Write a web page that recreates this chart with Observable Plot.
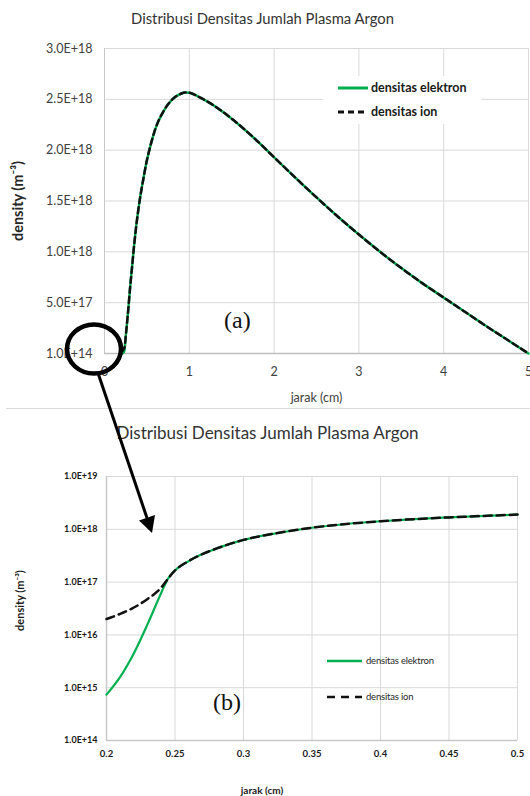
<!DOCTYPE html>
<html><head><meta charset="utf-8">
<script src="https://cdn.jsdelivr.net/npm/d3@7"></script>
<script src="https://cdn.jsdelivr.net/npm/@observablehq/plot@0.6"></script>
<style>
body{margin:0;background:#fff;}
#fig{position:relative;width:530px;height:796px;overflow:hidden;font-family:Lato,"Open Sans",sans-serif;background:#fff;}
.abs{position:absolute;}
.title{color:#333;white-space:nowrap;text-align:center;}
</style></head><body>
<div id="fig">
  <div class="abs title" style="left:0;width:525px;top:9px;font-size:14.8px;">Distribusi Densitas Jumlah Plasma Argon</div>
  <div class="abs" id="top" style="left:0;top:30px;"></div>
  <div class="abs title" style="left:0;width:535px;top:422px;font-size:17px;">Distribusi Densitas Jumlah Plasma Argon</div>
  <div class="abs" id="bottom" style="left:0;top:450px;"></div>
  <svg class="abs" id="overlay" style="left:0;top:0;" width="530" height="796"></svg>
</div>
<script>
// ---- data ----
const jarak = [0.2,0.21,0.22,0.23,0.24,0.245,0.25,0.26,0.27,0.28,0.3,0.325,0.35,0.375,0.4,0.425,0.45,0.5,0.55,0.6,0.7,0.8,0.9,0.95,1.0,1.1,1.25,1.5,1.75,2.0,2.25,2.5,2.75,3.0,3.25,3.5,3.75,4.0,4.25,4.5,4.75,5.0];
const densitasElektron = [7.4e14,1.6e15,4.5e15,1.6e16,6.3e16,1.17e17,1.66e17,2.5e17,3.4e17,4.3e17,6.3e17,8.5e17,1.07e18,1.26e18,1.42e18,1.56e18,1.68e18,1.9e18,2.07e18,2.21e18,2.39e18,2.5e18,2.555e18,2.568e18,2.565e18,2.53e18,2.46e18,2.31e18,2.13e18,1.93e18,1.73e18,1.535e18,1.348e18,1.17e18,1.0e18,0.84e18,0.69e18,0.55e18,0.41e18,0.27e18,0.135e18,1e14];
const densitasIon = [2.0e16,2.5e16,3.3e16,4.8e16,7.9e16,1.17e17,1.66e17,2.5e17,3.4e17,4.3e17,6.3e17,8.5e17,1.07e18,1.26e18,1.42e18,1.56e18,1.68e18,1.9e18,2.07e18,2.21e18,2.39e18,2.5e18,2.555e18,2.568e18,2.565e18,2.53e18,2.46e18,2.31e18,2.13e18,1.93e18,1.73e18,1.535e18,1.348e18,1.17e18,1.0e18,0.84e18,0.69e18,0.55e18,0.41e18,0.27e18,0.135e18,1e14];

const topXTicks = [0,1,2,3,4,5];
const topYTicks = [1e14,5e17,1e18,1.5e18,2e18,2.5e18,3e18];
const botXTicks = [0.2,0.25,0.3,0.35,0.4,0.45,0.5];
const botYTicks = [1e14,1e15,1e16,1e17,1e18,1e19];

const seriesNames = ["densitas elektron","densitas ion"];
const yLabel = "density (m\u207B\u00B3)";
const xLabel = "jarak (cm)";

const rows = jarak.map((x,i)=>({x, e: densitasElektron[i], ion: densitasIon[i]}));
const rowsZoom = rows.filter(d=>d.x<=0.5);

function excelExp(v){
  const e = Math.floor(Math.log10(v)+1e-9);
  const m = v/Math.pow(10,e);
  return m.toFixed(1)+"E+"+e;
}

const green = "#00b050", dark = "#111";
const font = "Lato, 'Open Sans', sans-serif";

const topPlot = Plot.plot({
  width:530, height:378, marginTop:18, marginBottom:55, marginLeft:104, marginRight:2,
  style:{fontFamily:font, fontSize:"12.5px", color:"#404040", background:"transparent"},
  x:{domain:[0,5]},
  y:{domain:[1e14,3e18]},
  marks:[
    Plot.gridX(topXTicks,{stroke:"#d9d9d9", strokeOpacity:1}),
    Plot.gridY(topYTicks,{stroke:"#d9d9d9", strokeOpacity:1}),
    Plot.ruleX([0],{stroke:"#c8c8c8"}),
    Plot.ruleY([1e14],{stroke:"#bfbfbf", strokeWidth:1.5}),
    Plot.axisX(topXTicks,{tickSize:0, tickPadding:14, label:null, tickFormat:d=>String(d), fontSize:12.5}),
    Plot.axisY(topYTicks,{tickSize:0, tickPadding:12, label:null, tickFormat:excelExp, fontSize:12.5}),
    Plot.line(rows,{x:"x", y:"e", stroke:green, strokeWidth:2.5, curve:"monotone-x"}),
    Plot.line(rows,{x:"x", y:"ion", stroke:dark, strokeWidth:2.5, strokeDasharray:"6,4", curve:"monotone-x"}),
    Plot.text([yLabel],{text:d=>d, frameAnchor:"left", textAnchor:"middle", lineAnchor:"middle", dx:-86, rotate:-90, fontSize:14.5, fontWeight:"bold", fill:"#262626"}),
    Plot.text([xLabel],{text:d=>d, frameAnchor:"bottom", textAnchor:"middle", lineAnchor:"middle", dy:44, fontSize:12.5, fill:"#404040"})
  ]
});
document.getElementById("top").appendChild(topPlot);

const botPlot = Plot.plot({
  width:530, height:346, marginTop:26, marginBottom:56, marginLeft:106, marginRight:13,
  style:{fontFamily:font, fontSize:"9.5px", color:"#1a1a1a", background:"transparent"},
  x:{domain:[0.2,0.5]},
  y:{type:"log", domain:[1e14,1e19]},
  marks:[
    Plot.gridX(botXTicks,{stroke:"#d9d9d9", strokeOpacity:1}),
    Plot.gridY(botYTicks,{stroke:"#d9d9d9", strokeOpacity:1}),
    Plot.ruleX([0.2],{stroke:"#c8c8c8", strokeWidth:1.5}),
    Plot.ruleY([1e14],{stroke:"#c8c8c8", strokeWidth:1.5}),
    Plot.axisX(botXTicks,{tickSize:0, tickPadding:10, label:null, tickFormat:d=>String(d), fontWeight:"bold", fontSize:9.5}),
    Plot.axisY(botYTicks,{tickSize:0, tickPadding:9, label:null, tickFormat:excelExp, fontWeight:"bold", fontSize:9}),
    Plot.line(rowsZoom,{x:"x", y:"e", stroke:green, strokeWidth:2.2, curve:"monotone-x"}),
    Plot.line(rowsZoom,{x:"x", y:"ion", stroke:dark, strokeWidth:2.5, strokeDasharray:"8,5", curve:"monotone-x"}),
    Plot.text([yLabel],{text:d=>d, frameAnchor:"left", textAnchor:"middle", lineAnchor:"middle", dx:-86, dy:-8, rotate:-90, fontSize:11, fontWeight:"bold", fill:"#1a1a1a"}),
    Plot.text([xLabel],{text:d=>d, frameAnchor:"bottom", textAnchor:"middle", lineAnchor:"middle", dx:-50, dy:50, fontSize:10, fontWeight:"bold", fill:"#1a1a1a"})
  ]
});
document.getElementById("bottom").appendChild(botPlot);

// ---- overlay: legends, separator, panel letters, annotation ----
const ov = d3.select("#overlay");
ov.append("line").attr("x1",6).attr("x2",530).attr("y1",408.5).attr("y2",408.5).attr("stroke","#d9d9d9");
// top legend
ov.append("rect").attr("x",323).attr("y",76).attr("width",158).attr("height",48).attr("fill","#fff");
const tl = [{y:88, dash:null, c:green},{y:112, dash:"6,4", c:dark}];
tl.forEach((s,i)=>{
  ov.append("line").attr("x1",338).attr("x2",368).attr("y1",s.y).attr("y2",s.y)
    .attr("stroke",s.c).attr("stroke-width",3).attr("stroke-dasharray",s.dash);
  ov.append("text").attr("x",371).attr("y",s.y).attr("dy","0.35em")
    .attr("font-size",12.5).attr("font-weight","bold").attr("fill","#1a1a1a")
    .attr("font-family",font).text(seriesNames[i]);
});
// bottom legend
const bl = [{y:661, dash:null, c:green},{y:697, dash:"8,6", c:dark}];
bl.forEach((s,i)=>{
  ov.append("line").attr("x1",327).attr("x2",362).attr("y1",s.y).attr("y2",s.y)
    .attr("stroke",s.c).attr("stroke-width",2.5).attr("stroke-dasharray",s.dash);
  ov.append("text").attr("x",366).attr("y",s.y).attr("dy","0.35em")
    .attr("font-size",9.5).attr("fill","#262626").attr("letter-spacing","-0.2")
    .attr("font-family",font).text(seriesNames[i]);
});
// panel letters
ov.append("text").attr("x",224).attr("y",320).attr("dy","0.35em").attr("font-size",24)
  .attr("font-family","'Liberation Serif', 'DejaVu Serif', serif").attr("fill","#111").text("(a)");
ov.append("text").attr("x",213).attr("y",702).attr("dy","0.35em").attr("font-size",24)
  .attr("font-family","'Liberation Serif', 'DejaVu Serif', serif").attr("fill","#111").text("(b)");
// zoom annotation
ov.append("ellipse").attr("cx",94).attr("cy",349).attr("rx",27).attr("ry",24.5)
  .attr("fill","none").attr("stroke","#000").attr("stroke-width",4.5);
ov.append("line").attr("x1",98).attr("y1",373).attr("x2",147).attr("y2",518)
  .attr("stroke","#000").attr("stroke-width",3);
ov.append("polygon").attr("points","139,520.5 155,515 152,533").attr("fill","#000");
</script>
</body></html>
